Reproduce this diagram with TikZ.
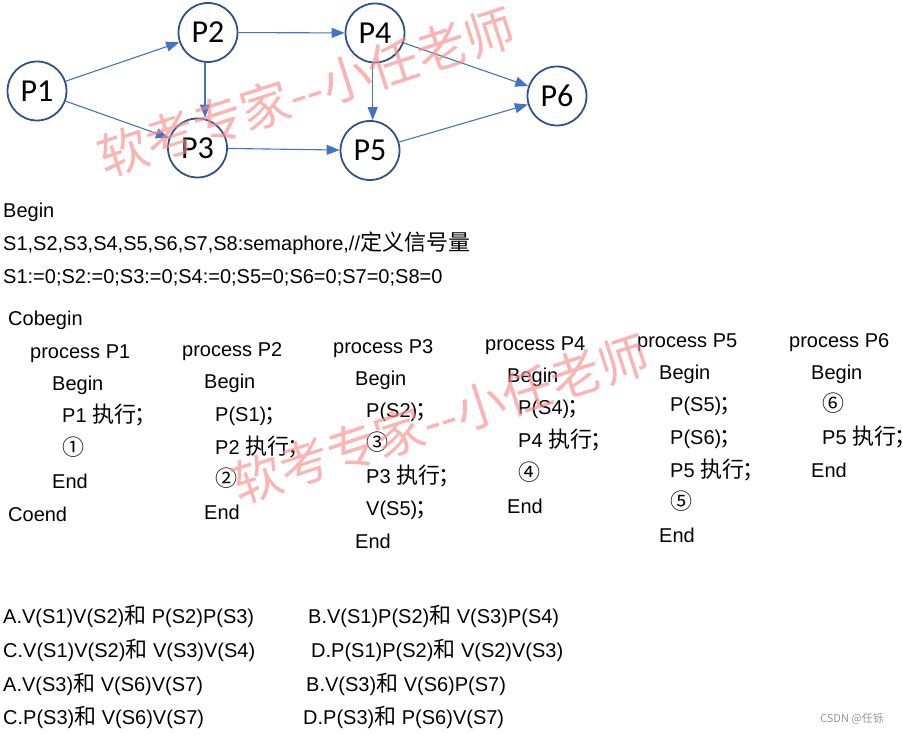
\documentclass[tikz,border=0pt]{standalone}
\usepackage{fontspec}
\setmainfont{Liberation Sans}
\newfontfamily\cjk{Noto Sans CJK SC}
\newfontfamily\nodefont{Carlito}
\newcommand{\zh}[1]{{\cjk\fontsize{22}{22}\selectfont #1}}
\newcommand{\semi}{\kern-2pt\rlap{；}}
\usetikzlibrary{arrows.meta}
\definecolor{nodeblue}{HTML}{2F528F}
\definecolor{edgeblue}{HTML}{4472C4}
\definecolor{wmpink}{RGB}{247,140,140}
\definecolor{csdngray}{RGB}{150,150,150}
\begin{document}
\begin{tikzpicture}[x=1pt,y=1pt,
  proc/.style={circle,draw=nodeblue,line width=1.8pt,minimum size=59pt,inner sep=0pt,font=\nodefont\fontsize{32}{32}\selectfont},
  edge/.style={edgeblue,line width=1.1pt,-{Triangle[length=13pt,width=10pt]}},
  txt/.style={anchor=base west,inner sep=0pt,font=\fontsize{20}{20}\selectfont},
  wmark/.style={text=wmpink,opacity=0.65,inner sep=0pt,font=\cjk\fontsize{50}{50}\selectfont,rotate=18}]
\useasboundingbox (0,0) rectangle (903,-735);
% graph
\node[proc] (P1) at (37,-91) {P1};
\node[proc] (P2) at (208,-32.5) {P2};
\node[proc] (P3) at (197.5,-148) {P3};
\node[proc] (P4) at (375,-33) {P4};
\node[proc] (P5) at (370,-150.5) {P5};
\node[proc] (P6) at (557,-96) {P6};
\draw[edge] (P1) -- (P2);
\draw[edge] (P1) -- (P3);
\draw[edge] ([xshift=-3pt]P2.south) -- ([xshift=7.5pt]P3.north);
\draw[edge] (P2) -- (P4);
\draw[edge] (P3) -- (P5);
\draw[edge] ([xshift=-2.3pt]P4.south) -- ([xshift=2.7pt]P5.north);
\draw[edge] (P4) -- (P6);
\draw[edge] (P5) -- (P6);
% header
\node[txt] (h1) at (3,-218) {Begin};
\node[txt] (h2) at (3,-251) {S1,S2,S3,S4,S5,S6,S7,S8:semaphore,//\zh{定义信号量}};
\node[txt] (h3) at (3,-284) {S1:=0;S2:=0;S3:=0;S4:=0;S5=0;S6=0;S7=0;S8=0};
% P1 column
\node[txt] (c0) at (8,-326) {Cobegin};
\node[txt] (a1) at (30,-359) {process P1};
\node[txt] (a2) at (52,-391) {Begin};
\node[txt] (a3) at (62,-423) {P1 \zh{执行\semi}};
\node[txt] (a4) at (62,-455) {\zh{①}};
\node[txt] (a5) at (52,-488) {End};
\node[txt] (c9) at (8,-521) {Coend};
% P2 column
\node[txt] (b1) at (182,-357) {process P2};
\node[txt] (b2) at (204,-389) {Begin};
\node[txt] (b3) at (215,-421) {P(S1)\zh{\semi}};
\node[txt] (b4) at (215,-454) {P2 \zh{执行\semi}};
\node[txt] (b5) at (215,-486) {\zh{②}};
\node[txt] (b6) at (204,-519) {End};
% P3 column
\node[txt] (d1) at (333,-354) {process P3};
\node[txt] (d2) at (355,-386) {Begin};
\node[txt] (d3) at (366,-418) {P(S2)\zh{\semi}};
\node[txt] (d4) at (366,-450) {\zh{③}};
\node[txt] (d5) at (366,-483) {P3 \zh{执行\semi}};
\node[txt] (d6) at (366,-515) {V(S5)\zh{\semi}};
\node[txt] (d7) at (355,-548) {End};
% P4 column
\node[txt] (e1) at (485,-351) {process P4};
\node[txt] (e2) at (507,-383) {Begin};
\node[txt] (e3) at (518,-415) {P(S4)\zh{\semi}};
\node[txt] (e4) at (518,-448) {P4 \zh{执行\semi}};
\node[txt] (e5) at (518,-480) {\zh{④}};
\node[txt] (e6) at (507,-513) {End};
% P5 column
\node[txt] (f1) at (637,-348) {process P5};
\node[txt] (f2) at (659,-380) {Begin};
\node[txt] (f3) at (670,-412) {P(S5)\zh{\semi}};
\node[txt] (f4) at (670,-445) {P(S6)\zh{\semi}};
\node[txt] (f5) at (670,-477) {P5 \zh{执行\semi}};
\node[txt] (f6) at (670,-509) {\zh{⑤}};
\node[txt] (f7) at (659,-542) {End};
% P6 column
\node[txt] (g1) at (789,-348) {process P6};
\node[txt] (g2) at (811,-380) {Begin};
\node[txt] (g3) at (822,-412) {\zh{⑥}};
\node[txt] (g4) at (822,-445) {P5 \zh{执行\semi}};
\node[txt] (g5) at (811,-477) {End};
% options
\node[txt] (o1) at (3,-623) {A.V(S1)V(S2)\zh{和} P(S2)P(S3)};
\node[txt] (o2) at (308,-623) {B.V(S1)P(S2)\zh{和} V(S3)P(S4)};
\node[txt] (o3) at (3,-657) {C.V(S1)V(S2)\zh{和} V(S3)V(S4)};
\node[txt] (o4) at (311,-657) {D.P(S1)P(S2)\zh{和} V(S2)V(S3)};
\node[txt] (o5) at (3,-691) {A.V(S3)\zh{和} V(S6)V(S7)};
\node[txt] (o6) at (306,-691) {B.V(S3)\zh{和} V(S6)P(S7)};
\node[txt] (o7) at (3,-724) {C.P(S3)\zh{和} V(S6)V(S7)};
\node[txt] (o8) at (303,-724) {D.P(S3)\zh{和} P(S6)V(S7)};
\node[anchor=west,inner sep=0pt,text=csdngray,font=\cjk\fontsize{11}{11}\selectfont] (csdn) at (820,-719) {CSDN @任铄};
% watermarks
\node[wmark] (w1) at (306,-92) {软考专家--小任老师};
\node[wmark] (w2) at (440,-419) {软考专家--小任老师};
\end{tikzpicture}
\end{document}
